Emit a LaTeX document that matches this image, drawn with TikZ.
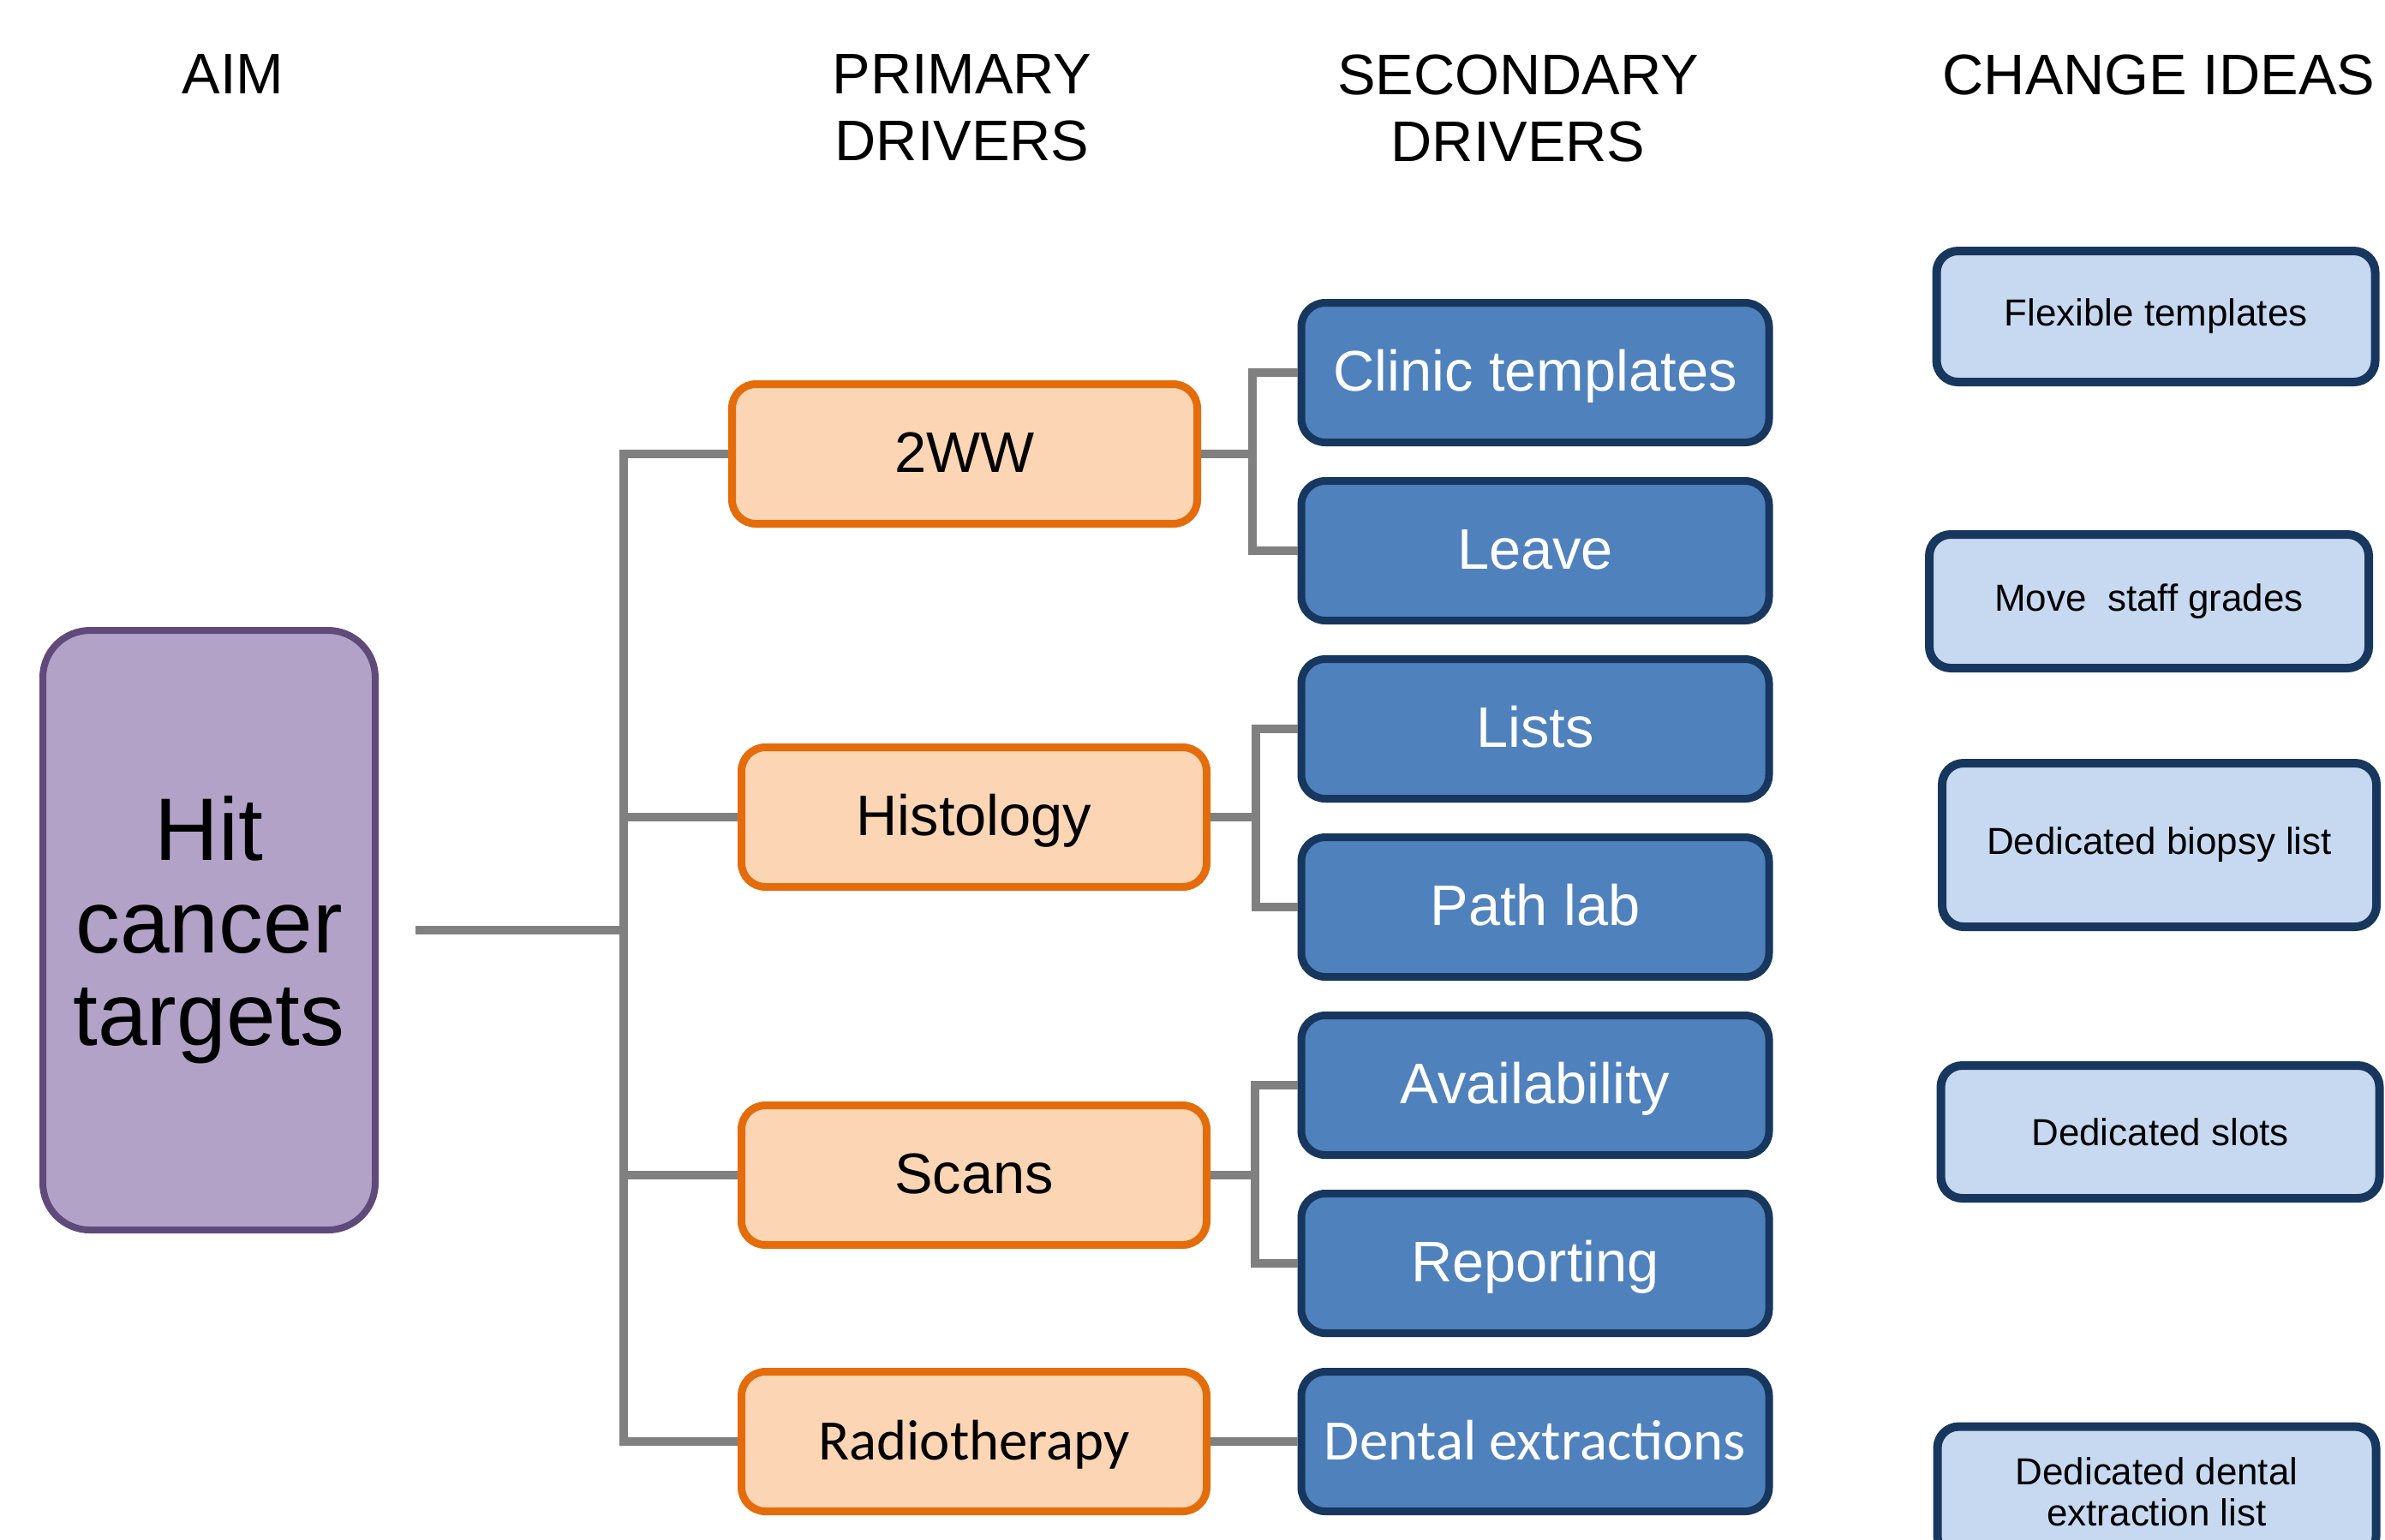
\documentclass[tikz,border=0pt]{standalone}
\usepackage{fontspec}
\setmainfont{Liberation Sans}
\newfontfamily\calibfont{Carlito}
\usepackage{tikz}
\usetikzlibrary{positioning, calc}

\definecolor{aimfill}{HTML}{B3A2C7}
\definecolor{aimdraw}{HTML}{604A7B}
\definecolor{pdfill}{HTML}{FCD5B5}
\definecolor{pddraw}{HTML}{E46C0A}
\definecolor{sdfill}{HTML}{4F81BD}
\definecolor{sddraw}{HTML}{17375E}
\definecolor{cifill}{HTML}{C6D9F1}
\definecolor{linkgray}{HTML}{808080}

\begin{document}
\begin{tikzpicture}[
    node distance=0.36cm,
    header/.style={align=center, inner sep=0pt, anchor=north, font=\fontsize{19}{22.2}\selectfont},
    aimbox/.style={rectangle, draw=aimdraw, fill=aimfill, line width=0.08cm, rounded corners=0.55cm, minimum width=3.88cm, minimum height=7cm, align=center, font=\fontsize{29.5}{30.7}\selectfont},
    primary/.style={rectangle, draw=pddraw, fill=pdfill, line width=0.09cm, rounded corners=0.28cm, minimum width=5.43cm, minimum height=1.63cm, text height=16pt, text depth=4pt, font=\fontsize{19}{22}\selectfont},
    secondary/.style={rectangle, draw=sddraw, fill=sdfill, line width=0.09cm, rounded corners=0.28cm, minimum width=5.46cm, minimum height=1.63cm, text height=16pt, text depth=4pt, text=white, font=\fontsize{19}{22}\selectfont},
    idea/.style={rectangle, draw=sddraw, fill=cifill, line width=0.1cm, rounded corners=0.25cm, minimum width=5.12cm, minimum height=1.53cm, align=center, font=\fontsize{12.5}{13.7}\selectfont},
    link/.style={draw=linkgray, line width=0.1cm}
]
    \useasboundingbox (0,0) rectangle (27.84,-17.97);
    \clip (0,0) rectangle (27.84,-17.97);

    % Column titles
    \node (h_aim) [header] at (2.72, -0.63) {AIM};
    \node (h_primary) [header] at (11.23, -0.63) {PRIMARY\\DRIVERS};
    \node (h_secondary) [header] at (17.72, -0.63) {SECONDARY\\DRIVERS};
    \node (h_ideas) [header] at (25.2, -0.63) {CHANGE IDEAS};

    % ========== Aim ==========
    \node (aim) [aimbox] at (2.44, -10.86) {Hit\\cancer\\targets};

    % ========== Primary drivers ==========
    \node (pd_2ww) [primary] at (11.26, -5.30) {2WW};
    \node (pd_histo) [primary] at (11.37, -9.54) {Histology};
    \node (pd_scans) [primary] at (11.37, -13.72) {Scans};
    \node (pd_radio) [primary, font=\calibfont\fontsize{19}{22}\selectfont] at (11.37, -16.83) {Radiotherapy};

    % ========== Secondary drivers ==========
    \node (sd_clinic) [secondary] at (17.92, -4.35) {Clinic templates};
    \node (sd_leave) [secondary, below=of sd_clinic] {Leave};
    \node (sd_lists) [secondary, below=of sd_leave] {Lists};
    \node (sd_path) [secondary, below=of sd_lists] {Path lab};
    \node (sd_avail) [secondary, below=of sd_path] {Availability};
    \node (sd_report) [secondary, below=of sd_avail] {Reporting};
    \node (sd_dental) [secondary, below=of sd_report, font=\calibfont\fontsize{19}{22}\selectfont] {Dental extractions};

    % ========== Change ideas ==========
    \node (ci_flex) [idea] at (25.165, -3.695) {Flexible templates};
    \node (ci_staff) [idea, minimum width=5.13cm, minimum height=1.56cm] at (25.085, -7.02) {Move~~staff grades};
    \node (ci_biopsy) [idea, minimum width=5.07cm, minimum height=1.91cm] at (25.205, -9.865) {Dedicated biopsy list};
    \node (ci_slots) [idea, minimum height=1.55cm] at (25.215, -13.215) {Dedicated slots};
    \node (ci_dental) [idea] at (25.175, -17.42) {Dedicated dental\\extraction list};

    % Aim to primary drivers
    \coordinate (trunk) at (7.28, -10.86);
    \draw [link] ([xshift=4.3mm]aim.east) -- (aim.east -| trunk);
    \draw [link] (pd_2ww.west) -| (trunk) |- (pd_radio.west);
    \draw [link] (trunk |- pd_histo) -- (pd_histo.west);
    \draw [link] (trunk |- pd_scans) -- (pd_scans.west);

    % Primary to secondary drivers
    \coordinate (fork_2ww) at ([xshift=-5.3mm]sd_clinic.west);
    \draw [link] (sd_clinic.west) -- (fork_2ww) |- (sd_leave.west);
    \draw [link] (pd_2ww.east) -- (pd_2ww.east -| fork_2ww);

    \coordinate (fork_histo) at ([xshift=-4.9mm]sd_lists.west);
    \draw [link] (sd_lists.west) -- (fork_histo) |- (sd_path.west);
    \draw [link] (pd_histo.east) -- (pd_histo.east -| fork_histo);

    \coordinate (fork_scans) at ([xshift=-5.0mm]sd_avail.west);
    \draw [link] (sd_avail.west) -- (fork_scans) |- (sd_report.west);
    \draw [link] (pd_scans.east) -- (pd_scans.east -| fork_scans);

    \draw [link] (pd_radio.east) -- (sd_dental.west);
\end{tikzpicture}
\end{document}
